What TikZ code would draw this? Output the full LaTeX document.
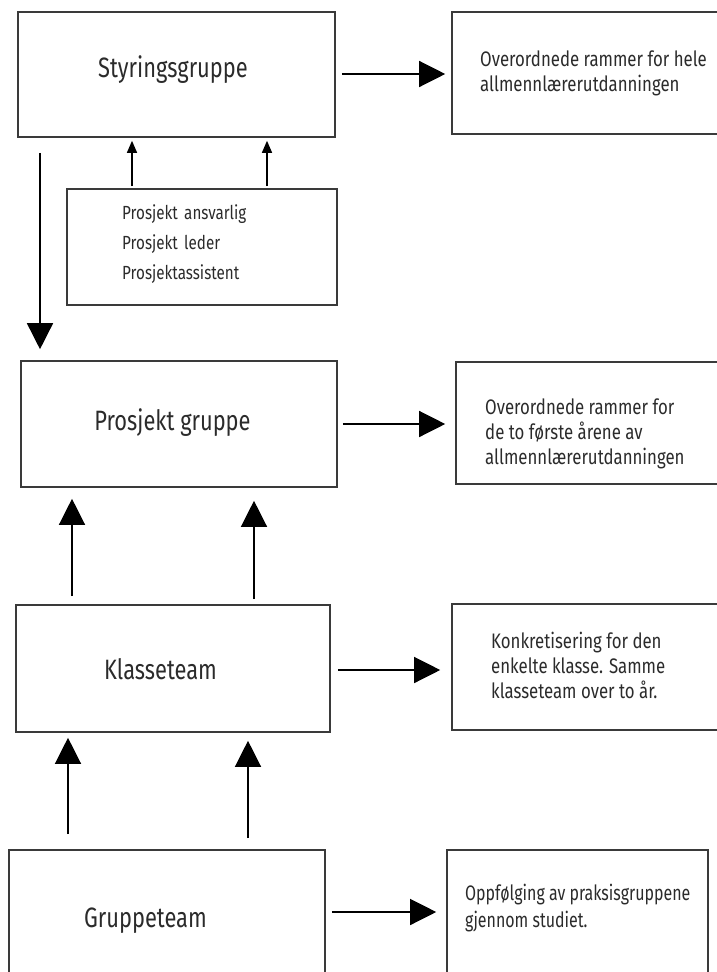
\documentclass[tikz,border=0pt]{standalone}
\usepackage{fontspec}
\setmainfont{Fira Sans}
\newfontfamily\labelfont[FakeStretch=0.78]{Fira Sans}
\newfontfamily\notefont[FakeStretch=0.8]{Fira Sans}
\newfontfamily\narrownote[FakeStretch=0.76]{Fira Sans}
\usetikzlibrary{arrows.meta,calc}
\definecolor{ink}{HTML}{3A3A3A}
\definecolor{txt}{HTML}{2B2B2B}
\tikzset{
  box/.style={draw=ink, line width=1.6pt, rectangle, inner sep=0pt},
  mainlabel/.style={text=txt, font=\labelfont\fontsize{28}{30}\selectfont, inner sep=0pt, anchor=base},
  note/.style={text=txt, font=\notefont\fontsize{21}{25}\selectfont, align=left, inner sep=0pt, anchor=north west},
  bigarrow/.style={draw=black, line width=1.3pt, -{Triangle[length=26pt,width=26pt]}},
  smallarrow/.style={draw=black, line width=1.3pt, -{Triangle[length=12pt,width=10pt]}}
}
\begin{document}
\begin{tikzpicture}[x=1pt, y=-1pt]
  \useasboundingbox (0,0) rectangle (717,972);
  \clip (0,0) rectangle (717,972);

  % left column of boxes
  \node[box, minimum width=317pt, minimum height=125pt] (styr) at (176.5,74.5) {};
  \node[box, minimum width=270pt, minimum height=116pt] (team) at (202,247) {};
  \node[box, minimum width=316pt, minimum height=126pt] (pg) at (179,424) {};
  \node[box, minimum width=314pt, minimum height=127pt] (klasse) at (173,668.5) {};
  \node[box, minimum width=316pt, minimum height=126pt] (gruppe) at (167,913) {};

  % right column of boxes
  \node[box, minimum width=290pt, minimum height=122pt] (r1) at (597,73) {};
  \node[box, minimum width=290pt, minimum height=122pt] (r2) at (601,423) {};
  \node[box, minimum width=290pt, minimum height=126pt] (r3) at (597,667) {};
  \node[box, minimum width=261pt, minimum height=126pt] (r4) at (577.5,913) {};

  % labels
  \node[mainlabel] (lstyr) at (173,77) {Styringsgruppe};
  \node[mainlabel] (lpg) at (172.5,430) {Prosjekt gruppe};
  \node[mainlabel] (lklasse) at (160.5,679) {Klasseteam};
  \node[mainlabel] (lgruppe) at (145.5,927) {Gruppeteam};

  \node[note, font=\notefont\fontsize{19}{30}\selectfont, text width=200pt] (tteam) at (122,204) {Prosjekt ansvarlig\\Prosjekt leder\\Prosjektassistent};
  \node[note] (t1) at (480,51) {Overordnede rammer for hele\\allmennlærerutdanningen};
  \node[note] (t2) at (485,399) {Overordnede rammer for\\de to første årene av\\allmennlærerutdanningen};
  \node[note] (t3) at (491,632) {Konkretisering for den\\enkelte klasse. Samme\\klasseteam over to år.};
  \node[note, font=\narrownote\fontsize{21}{27}\selectfont] (t4) at (465,884) {Oppfølging av praksisgruppene\\gjennom studiet.};

  % horizontal arrows to the notes
  \draw[bigarrow, shorten <=6pt, shorten >=6pt] (styr.east |- 0,74) -- (r1.west |- 0,74);
  \draw[bigarrow, shorten <=5pt, shorten >=10pt] (pg.east) -- (pg.east -| r2.west);
  \draw[bigarrow, shorten <=7pt, shorten >=11pt] (klasse.east |- 0,670) -- (r3.west |- 0,670);
  \draw[bigarrow, shorten <=6pt, shorten >=10pt] (gruppe.east |- 0,912) -- (r4.west |- 0,912);

  % small arrows from the project team up to the steering group
  \coordinate (a1) at (132,0);
  \coordinate (a2) at (267,0);
  \draw[smallarrow, shorten <=2pt, shorten >=3pt] (a1 |- team.north) -- (a1 |- styr.south);
  \draw[smallarrow, shorten <=2pt, shorten >=3pt] (a2 |- team.north) -- (a2 |- styr.south);

  % steering group down to the project group
  \coordinate (d) at (40,0);
  \draw[bigarrow, line width=1.5pt, shorten <=15pt, shorten >=11pt] (d |- styr.south) -- (d |- pg.north);

  % class team up to the project group
  \coordinate (b1) at (72,0);
  \coordinate (b2) at (254,0);
  \draw[bigarrow, shorten <=8pt, shorten >=11pt] (b1 |- klasse.north) -- (b1 |- pg.south);
  \draw[bigarrow, shorten <=5pt, shorten >=13pt] (b2 |- klasse.north) -- (b2 |- pg.south);

  % group team up to the class team
  \coordinate (c1) at (68,0);
  \coordinate (c2) at (248,0);
  \draw[bigarrow, shorten <=15pt, shorten >=5pt] (c1 |- gruppe.north) -- (c1 |- klasse.south);
  \draw[bigarrow, shorten <=11pt, shorten >=8pt] (c2 |- gruppe.north) -- (c2 |- klasse.south);
\end{tikzpicture}
\end{document}
